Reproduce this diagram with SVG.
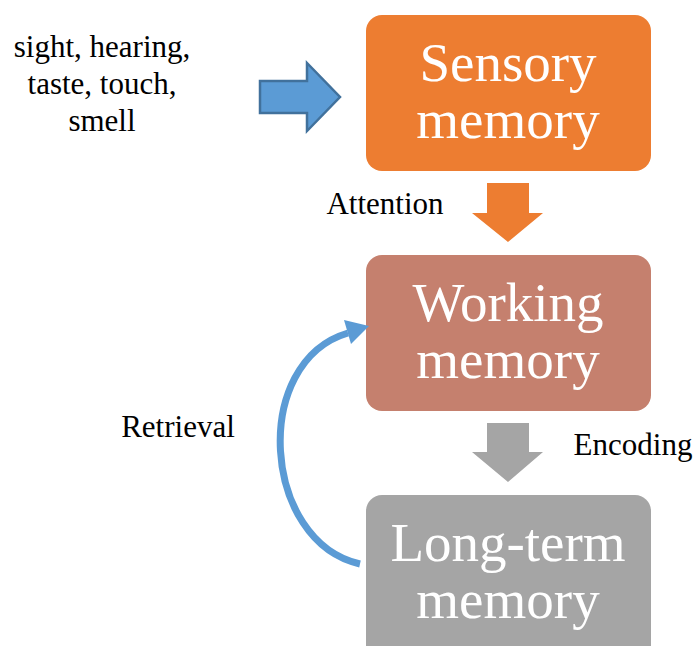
<svg xmlns="http://www.w3.org/2000/svg" width="696" height="646" viewBox="0 0 696 646">
<style>
.lbl{font-family:"Liberation Serif","Times New Roman",serif;font-size:31px;fill:#000;text-anchor:middle}
.big{font-family:"Liberation Serif","Times New Roman",serif;font-size:55px;fill:#fff;text-anchor:middle}
</style>
<rect width="696" height="646" fill="#fff"/>
<g id="input-label">
<text class="lbl" x="102" y="57">sight, hearing,</text>
<text class="lbl" x="102" y="94">taste, touch,</text>
<text class="lbl" x="102" y="131">smell</text>
</g>
<g id="sensory">
<rect x="366" y="15" width="285" height="156" rx="16" fill="#ED7D31"/>
<text class="big" x="508" y="81">Sensory</text>
<text class="big" x="508" y="138">memory</text>
</g>
<g id="working">
<rect x="366" y="255" width="285" height="156" rx="16" fill="#C5806E"/>
<text class="big" x="508" y="321">Working</text>
<text class="big" x="508" y="378">memory</text>
</g>
<g id="longterm">
<rect x="366" y="495" width="285" height="170" rx="16" fill="#A5A5A5"/>
<text class="big" x="508" y="561">Long-term</text>
<text class="big" x="508" y="618">memory</text>
</g>
<g id="connectors">
<polygon points="260,81 307,81 307,63 340,97 307,131 307,113 260,113" fill="#5B9BD5" stroke="#41719C" stroke-width="2.5" stroke-linejoin="miter"/>
<polygon points="487,183 529,183 529,213 543,213 508,242 472,213 487,213" fill="#ED7D31"/>
<polygon points="487,423 529,423 529,452 543,452 508,482 472,452 487,452" fill="#A5A5A5"/>
<path d="M360,564 C262,542 250,362 348,333" fill="none" stroke="#5B9BD5" stroke-width="7"/>
<polygon points="369,326 344,320 351,344" fill="#5B9BD5"/>
<text class="lbl" x="385" y="214">Attention</text>
<text class="lbl" x="633" y="455">Encoding</text>
<text class="lbl" x="178" y="437">Retrieval</text>
</g>
</svg>
